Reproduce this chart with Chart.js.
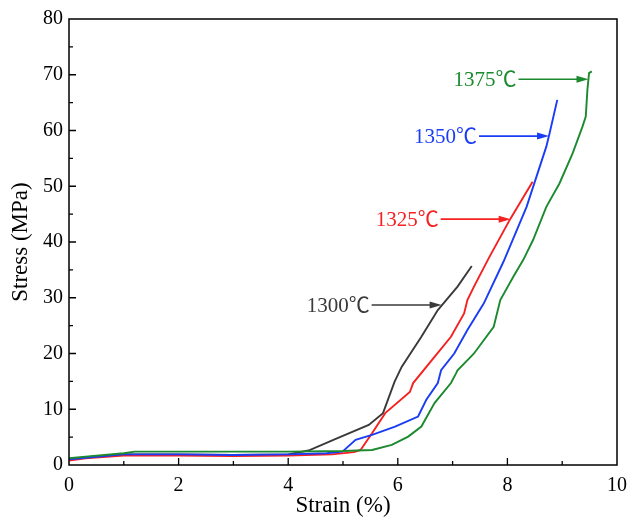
<!DOCTYPE html>
<html>
<head>
<meta charset="utf-8">
<script src="https://cdn.jsdelivr.net/npm/chart.js@4.4.0/dist/chart.umd.min.js"></script>
<style>
  html, body { margin: 0; padding: 0; background: #fff; }
  canvas { display: block; }
</style>
</head>
<body>
<canvas id="chart" width="636" height="521"></canvas>
<script>
// strain (%) / stress (MPa)
const strain1300 = [0, 0.3, 1.0, 2, 3, 4, 4.37, 4.9, 5.47, 5.73, 5.94, 6.07, 6.43, 6.73, 7.09, 7.35];
const stress1300 = [1.0, 1.4, 1.9, 1.9, 1.8, 1.9, 2.6, 4.8, 7.2, 9.3, 14.9, 17.6, 23.0, 27.8, 32.0, 35.7];

const strain1325 = [0, 0.3, 1.0, 2, 3, 4, 4.8, 5.2, 5.32, 5.53, 5.77, 6.22, 6.28, 6.67, 6.97, 7.21, 7.27, 7.39, 7.66, 8.05, 8.46];
const stress1325 = [0.8, 1.2, 1.7, 1.7, 1.6, 1.7, 1.9, 2.3, 2.7, 5.7, 9.3, 13.1, 14.7, 19.4, 23.0, 27.2, 29.6, 32.0, 37.1, 44.1, 50.8];

const strain1350 = [0, 0.3, 1.0, 2, 3, 4, 4.7, 4.99, 5.23, 5.53, 5.95, 6.37, 6.52, 6.73, 6.79, 7.03, 7.27, 7.57, 7.93, 8.35, 8.71, 8.77, 8.91];
const stress1350 = [1.0, 1.3, 1.9, 1.9, 1.8, 1.9, 2.1, 2.4, 4.5, 5.4, 6.9, 8.7, 11.7, 14.7, 17.0, 20.0, 24.2, 29.0, 36.5, 46.3, 57.1, 59.5, 65.5];

const strain1375 = [0, 0.3, 1.0, 1.2, 2, 3, 4, 5, 5.53, 5.89, 6.19, 6.43, 6.67, 6.97, 7.06, 7.09, 7.33, 7.39, 7.75, 7.87, 8.11, 8.29, 8.47, 8.71, 8.95, 9.19, 9.37, 9.43, 9.46, 9.49, 9.54];
const stress1375 = [1.2, 1.5, 2.1, 2.4, 2.4, 2.4, 2.4, 2.5, 2.7, 3.6, 5.1, 6.9, 11.1, 14.7, 16.4, 17.0, 19.4, 20.0, 24.8, 29.6, 33.8, 36.8, 40.4, 46.3, 50.5, 55.9, 60.7, 62.5, 67.3, 70.3, 70.6];

const seriesLabels = ['1375℃', '1350℃', '1325℃', '1300℃'];
// arrow tip of each label (strain, stress)
const arrowTipX = [9.48, 8.76, 8.06, 6.8];
const arrowTipY = [69.2, 59.0, 44.1, 28.7];

const colors = ['#1b8a2e', '#1a3cf5', '#f52020', '#3a3a3a'];
const serif = "'Liberation Serif', 'Times New Roman', serif";
const labelFont = "'Liberation Serif', 'Noto Sans CJK SC', serif";

function toPoints(xs, ys) {
    return xs.map((x, i) => ({ x: x, y: ys[i] }));
}

const allX = [strain1375, strain1350, strain1325, strain1300];
const allY = [stress1375, stress1350, stress1325, stress1300];

const datasets = seriesLabels.map((label, i) => ({
    label: label,
    data: toPoints(allX[i], allY[i]),
    borderColor: colors[i],
    borderWidth: 1.9,
    pointRadius: 0,
    showLine: true,
    tension: 0
}));

// frame, inward ticks and the arrow labels
const framePlugin = {
    id: 'frame',
    afterDatasetsDraw(chart) {
        const ctx = chart.ctx;
        const area = chart.chartArea;
        const xs = chart.scales.x;
        const ys = chart.scales.y;
        ctx.save();
        ctx.strokeStyle = '#000';
        ctx.lineWidth = 1.5;
        ctx.strokeRect(area.left, area.top, area.right - area.left, area.bottom - area.top);

        ctx.lineWidth = 1.3;
        ctx.beginPath();
        for (let v = 1; v < 10; v++) {
            const px = xs.getPixelForValue(v);
            const len = v % 2 === 0 ? 7 : 4;
            ctx.moveTo(px, area.bottom);
            ctx.lineTo(px, area.bottom - len);
        }
        for (let v = 5; v < 80; v += 5) {
            const py = ys.getPixelForValue(v);
            const len = v % 10 === 0 ? 7 : 4;
            ctx.moveTo(area.left, py);
            ctx.lineTo(area.left + len, py);
        }
        ctx.stroke();

        ctx.font = '21px ' + labelFont;
        ctx.textAlign = 'right';
        ctx.textBaseline = 'middle';
        seriesLabels.forEach((label, i) => {
            const tx = xs.getPixelForValue(arrowTipX[i]);
            const ty = ys.getPixelForValue(arrowTipY[i]);
            const startX = tx - 70;
            ctx.strokeStyle = colors[i];
            ctx.fillStyle = colors[i];
            ctx.lineWidth = 1.6;
            ctx.beginPath();
            ctx.moveTo(startX, ty);
            ctx.lineTo(tx - 10, ty);
            ctx.stroke();
            ctx.beginPath();
            ctx.moveTo(tx, ty);
            ctx.lineTo(tx - 12, ty - 3.5);
            ctx.lineTo(tx - 12, ty + 3.5);
            ctx.closePath();
            ctx.fill();
            ctx.fillText(label, startX - 2, ty + 1);
        });
        ctx.restore();
    }
};

new Chart(document.getElementById('chart'), {
    type: 'scatter',
    data: { datasets: datasets },
    options: {
        responsive: false,
        animation: false,
        devicePixelRatio: 1,
        layout: { padding: { left: 0, top: 19, right: 11, bottom: 0 } },
        plugins: {
            legend: { display: false },
            tooltip: { enabled: false }
        },
        scales: {
            x: {
                type: 'linear',
                min: 0,
                max: 10,
                grid: { display: false, drawTicks: false },
                border: { display: false },
                ticks: {
                    stepSize: 1,
                    padding: 9,
                    color: '#000',
                    font: { family: serif, size: 20 },
                    maxRotation: 0,
                    autoSkip: false,
                    callback: v => (v % 2 === 0 ? v : '')
                },
                title: {
                    display: true,
                    text: 'Strain (%)',
                    color: '#000',
                    font: { family: serif, size: 23 },
                    padding: { top: 0, bottom: 1 }
                },
                afterFit: scale => { scale.height = 56; }
            },
            y: {
                type: 'linear',
                min: 0,
                max: 80,
                grid: { display: false, drawTicks: false },
                border: { display: false },
                ticks: {
                    stepSize: 5,
                    padding: 6,
                    color: '#000',
                    font: { family: serif, size: 20 },
                    autoSkip: false,
                    callback: v => (v % 10 === 0 ? v : '')
                },
                title: {
                    display: true,
                    text: 'Stress (MPa)',
                    color: '#000',
                    font: { family: serif, size: 23 },
                    padding: { top: 7, bottom: 0 }
                },
                afterFit: scale => { scale.width = 69; }
            }
        }
    },
    plugins: [framePlugin]
});
</script>
</body>
</html>
